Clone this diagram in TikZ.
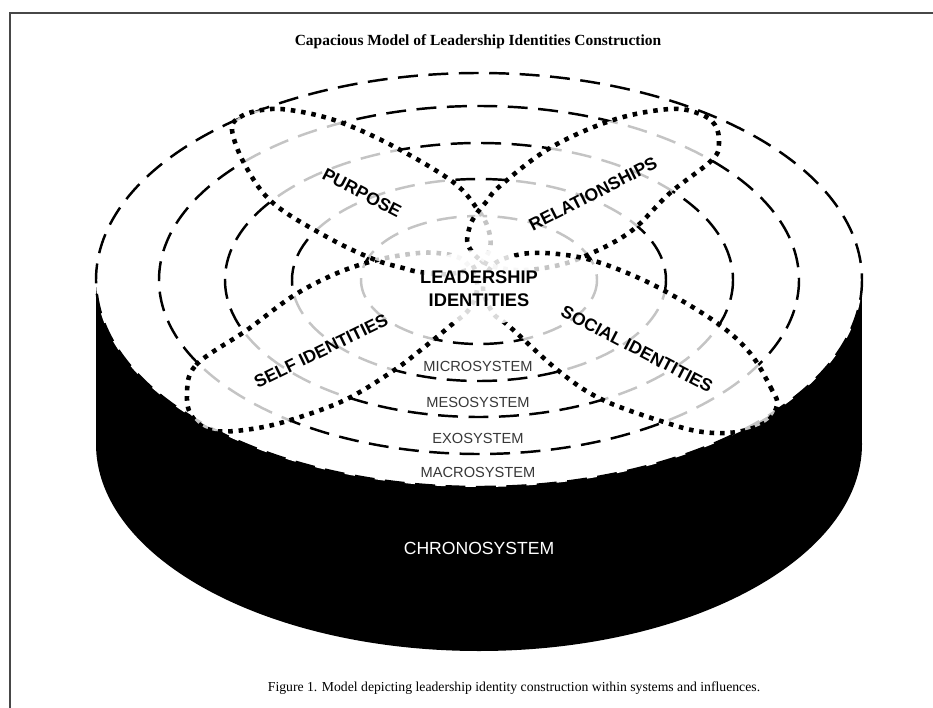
\documentclass[tikz,border=0pt]{standalone}
\usepackage{fontspec}
\setmainfont{Liberation Serif}
\setsansfont{Liberation Sans}
\begin{document}
\begin{tikzpicture}[x=0.03cm,y=-0.03cm,
  sysring/.style={line width=2.1pt, dash pattern=on 17pt off 9pt},
  petal/.style={fill=white, fill opacity=0.77, draw=black, line width=3.9pt,
    dash pattern=on 3.9pt off 5pt},
  petallabel/.style={font=\sffamily\bfseries\fontsize{15}{18}\selectfont, inner sep=0pt},
  syslabel/.style={font=\sffamily\fontsize{12.5}{15}\selectfont, text=black!78, inner sep=0pt},
]
\useasboundingbox (0,0) rectangle (933,708);
\fill[white] (0,0) rectangle (933,708);
% page frame
\draw[line width=1.7pt, black!72] (10,708) |- (933,13);

% title and caption
\node[font=\bfseries\fontsize{13.2}{15}\selectfont] (title) at (478,42)
  {Capacious Model of Leadership Identities Construction};
\node[font=\fontsize{11.7}{14}\selectfont] (caption) at (514,688)
  {Figure 1. Model depicting leadership identity construction within systems and influences.};

% the cylinder: black side, white top face
\fill[black] (96,280) rectangle (862,444);
\fill[black] (479,444) ellipse [x radius=383, y radius=207];
\fill[white] (479,280) ellipse [x radius=383, y radius=207];

% nested system rings on the top face
\foreach \rx/\ry in {383/207, 320/174, 254/137, 187/101, 118/64}
  \draw[sysring] (479,280) ellipse [x radius=\rx, y radius=\ry];

% identity petals, translucent so the rings show through in grey
\path[petal] plot[smooth cycle, tension=0.6] coordinates {
  (187,395) (196,365) (247,330) (293,296) (335,274) (373,261) (410,254)
  (437,253) (463,260) (477,283) (470,308) (450,326) (422,349) (393,371)
  (347,399) (300,417) (258,428) (215,431) (193,418)};
\path[petal] plot[smooth cycle, tension=0.6] coordinates {
  (232,130) (240,117) (262,110) (290,110) (337,121) (393,146) (453,182)
  (478,210) (488,228) (490,248) (478,265) (450,274) (420,272) (403,268)
  (373,259) (327,237) (273,203) (245,165)};
\path[petal] plot[smooth cycle, tension=0.6] coordinates {
  (719,143) (712,160) (670,193) (630,232) (583,257) (550,267) (515,270)
  (485,263) (468,245) (470,226) (477,213) (487,201) (500,186) (550,148)
  (613,120) (670,109) (700,114) (715,125)};
\path[petal] plot[smooth cycle, tension=0.6] coordinates {
  (777,405) (772,390) (750,353) (717,323) (663,290) (620,270) (583,258)
  (545,253) (517,255) (493,265) (483,288) (493,313) (510,327) (560,372)
  (603,400) (667,423) (703,432) (737,432) (766,422)};

% backdrop behind the central label
\fill[white, opacity=0.85] (479,288) ellipse [x radius=62, y radius=38];

\node[align=center, inner sep=0pt, font=\sffamily\bfseries\fontsize{15.6}{19.5}\selectfont]
  (core) at (479,289) {LEADERSHIP\\IDENTITIES};

\node[petallabel, rotate=-27.5] (purpose) at (362,193) {PURPOSE};
\node[petallabel, rotate=27] (relations) at (593,194) {RELATIONSHIPS};
\node[petallabel, rotate=26] (self) at (321,351) {SELF IDENTITIES};
\node[petallabel, rotate=-27.5] (social) at (637,349) {SOCIAL IDENTITIES};

\node[syslabel] (micro) at (478,366) {MICROSYSTEM};
\node[syslabel] (meso) at (478,402) {MESOSYSTEM};
\node[syslabel] (exo) at (478,438) {EXOSYSTEM};
\node[syslabel] (macro) at (478,472) {MACROSYSTEM};
\node[font=\sffamily\fontsize{15}{18}\selectfont, text=white, inner sep=0pt]
  (chrono) at (479,548) {CHRONOSYSTEM};
\end{tikzpicture}
\end{document}
